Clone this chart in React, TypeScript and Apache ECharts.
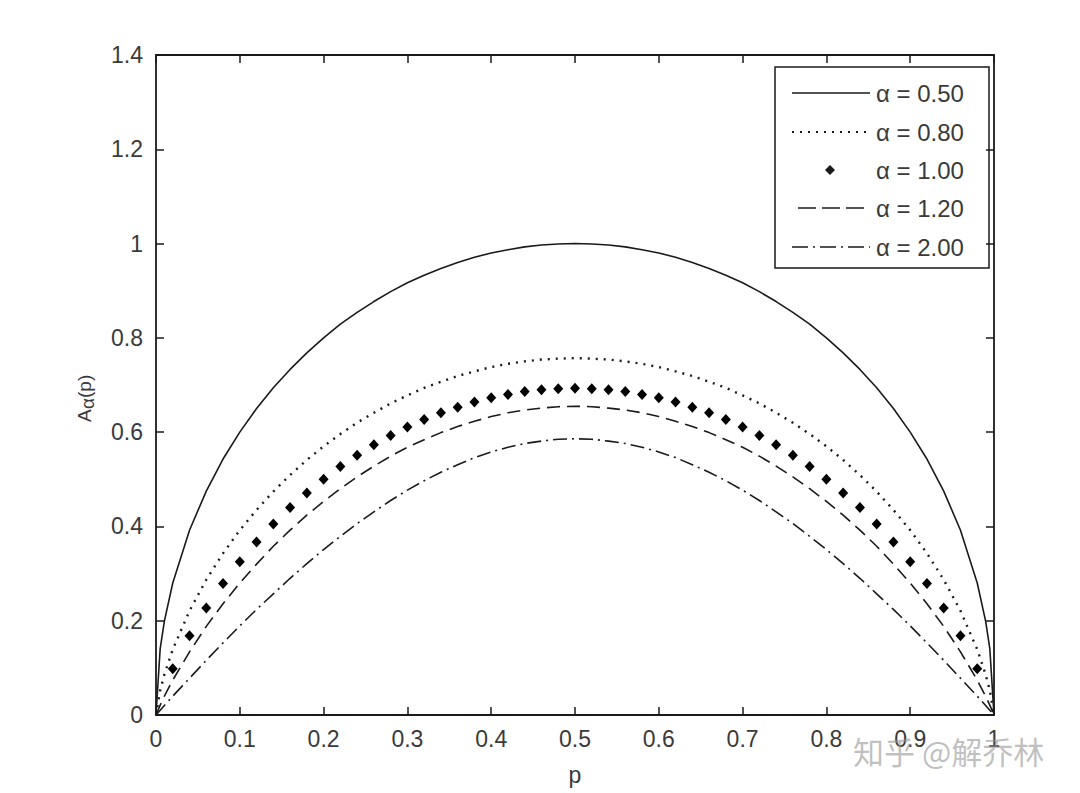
import React, { useEffect, useRef } from "react";
import * as echarts from "echarts";

// p values for the continuous curves
const pLine = [
  0, 0.005, 0.01, 0.02, 0.04, 0.06, 0.08, 0.1, 0.12, 0.14, 0.16, 0.18, 0.2, 0.22, 0.24, 0.26, 0.28, 0.3,
  0.32, 0.34, 0.36, 0.38, 0.4, 0.42, 0.44, 0.46, 0.48, 0.5,
  0.52, 0.54, 0.56, 0.58, 0.6, 0.62, 0.64, 0.66, 0.68, 0.7, 0.72, 0.74, 0.76, 0.78, 0.8, 0.82, 0.84,
  0.86, 0.88, 0.9, 0.92, 0.94, 0.96, 0.98, 0.99, 0.995, 1,
];

const a050 = [
  0, 0.141, 0.199, 0.28, 0.392, 0.475, 0.543, 0.6, 0.65, 0.694, 0.733, 0.768, 0.8, 0.829, 0.854, 0.877,
  0.898, 0.917, 0.933, 0.947, 0.96, 0.971, 0.98, 0.987, 0.993, 0.997, 0.999, 1.0,
  0.999, 0.997, 0.993, 0.987, 0.98, 0.971, 0.96, 0.947, 0.933, 0.917, 0.898, 0.877, 0.854, 0.829, 0.8,
  0.768, 0.733, 0.694, 0.65, 0.6, 0.543, 0.475, 0.392, 0.28, 0.199, 0.141, 0,
];

const a080 = [
  0, 0.052, 0.086, 0.139, 0.221, 0.287, 0.343, 0.392, 0.435, 0.474, 0.509, 0.541, 0.57, 0.596, 0.62,
  0.641, 0.661, 0.678, 0.694, 0.707, 0.719, 0.729, 0.738, 0.745, 0.75, 0.754, 0.756, 0.757,
  0.756, 0.754, 0.75, 0.745, 0.738, 0.729, 0.719, 0.707, 0.694, 0.678, 0.661, 0.641, 0.62, 0.596, 0.57,
  0.541, 0.509, 0.474, 0.435, 0.392, 0.343, 0.287, 0.221, 0.139, 0.086, 0.052, 0,
];

const a120 = [
  0, 0.021, 0.04, 0.074, 0.134, 0.188, 0.236, 0.28, 0.32, 0.358, 0.392, 0.424, 0.453, 0.48, 0.505,
  0.528, 0.549, 0.568, 0.584, 0.599, 0.612, 0.623, 0.633, 0.641, 0.647, 0.651, 0.654, 0.655,
  0.654, 0.651, 0.647, 0.641, 0.633, 0.623, 0.612, 0.599, 0.584, 0.568, 0.549, 0.528, 0.505, 0.48,
  0.453, 0.424, 0.392, 0.358, 0.32, 0.28, 0.236, 0.188, 0.134, 0.074, 0.04, 0.021, 0,
];

const a200 = [
  0, 0.01, 0.02, 0.04, 0.078, 0.116, 0.153, 0.189, 0.224, 0.257, 0.29, 0.321, 0.351, 0.379, 0.406,
  0.431, 0.455, 0.477, 0.497, 0.515, 0.531, 0.546, 0.558, 0.568, 0.576, 0.581, 0.585, 0.586,
  0.585, 0.581, 0.576, 0.568, 0.558, 0.546, 0.531, 0.515, 0.497, 0.477, 0.455, 0.431, 0.406, 0.379,
  0.351, 0.321, 0.29, 0.257, 0.224, 0.189, 0.153, 0.116, 0.078, 0.04, 0.02, 0.01, 0,
];

// p values for the alpha = 1.00 markers
const pMarker = [
  0.02, 0.04, 0.06, 0.08, 0.1, 0.12, 0.14, 0.16, 0.18, 0.2, 0.22, 0.24, 0.26, 0.28, 0.3, 0.32, 0.34,
  0.36, 0.38, 0.4, 0.42, 0.44, 0.46, 0.48, 0.5, 0.52, 0.54, 0.56, 0.58, 0.6, 0.62, 0.64, 0.66, 0.68,
  0.7, 0.72, 0.74, 0.76, 0.78, 0.8, 0.82, 0.84, 0.86, 0.88, 0.9, 0.92, 0.94, 0.96, 0.98,
];

const a100 = [
  0.098, 0.168, 0.227, 0.279, 0.325, 0.367, 0.405, 0.44, 0.471, 0.5, 0.527, 0.551, 0.573, 0.593, 0.611,
  0.627, 0.641, 0.653, 0.664, 0.673, 0.68, 0.686, 0.69, 0.692, 0.693,
  0.692, 0.69, 0.686, 0.68, 0.673, 0.664, 0.653, 0.641, 0.627, 0.611, 0.593, 0.573, 0.551, 0.527, 0.5,
  0.471, 0.44, 0.405, 0.367, 0.325, 0.279, 0.227, 0.168, 0.098,
];

const legendNames = ["α = 0.50", "α = 0.80", "α = 1.00", "α = 1.20", "α = 2.00"];

const INK = "#1a1a1a";
const TEXT = "#3a3a3a";
const FONT = "'Liberation Sans', Arial, Helvetica, sans-serif";

export default function App() {
  const ref = useRef<HTMLDivElement>(null);

  useEffect(() => {
    if (!ref.current) return;
    const chart = echarts.init(ref.current, undefined, { renderer: "svg" });

    const lineSeries = (name: string, ys: number[], type: any, width: number) => ({
      name,
      type: "line",
      data: pLine.map((p, i) => [p, ys[i]]),
      showSymbol: false,
      symbol: "none",
      smooth: false,
      lineStyle: { color: INK, width, type, cap: "butt", opacity: 1 },
      z: 3,
    });

    const rowY = [93, 132, 170, 208, 247];
    const legX1 = 792;
    const legX2 = 870;

    const legendChildren: any[] = [
      {
        type: "rect",
        shape: { x: 775, y: 67, width: 214, height: 201 },
        style: { fill: "#fff", stroke: INK, lineWidth: 1.5 },
      },
      {
        type: "line",
        shape: { x1: legX1, y1: rowY[0], x2: legX2, y2: rowY[0] },
        style: { stroke: INK, lineWidth: 1.6 },
      },
      {
        type: "line",
        shape: { x1: legX1, y1: rowY[1], x2: legX2, y2: rowY[1] },
        style: { stroke: INK, lineWidth: 2.2, lineDash: [2, 6] },
      },
      {
        type: "polygon",
        shape: {
          points: [
            [830, rowY[2] - 5],
            [835, rowY[2]],
            [830, rowY[2] + 5],
            [825, rowY[2]],
          ],
        },
        style: { fill: INK },
      },
      {
        type: "line",
        shape: { x1: 798, y1: rowY[3], x2: legX2, y2: rowY[3] },
        style: { stroke: INK, lineWidth: 1.6, lineDash: [18, 6] },
      },
      {
        type: "line",
        shape: { x1: legX1, y1: rowY[4], x2: legX2, y2: rowY[4] },
        style: { stroke: INK, lineWidth: 1.6, lineDash: [16, 5, 2, 5] },
      },
      ...legendNames.map((t, i) => ({
        type: "text",
        x: 876,
        y: rowY[i],
        style: {
          text: t,
          fill: TEXT,
          font: `24px ${FONT}`,
          textAlign: "left",
          textVerticalAlign: "middle",
        },
      })),
    ];

    const option: any = {
      animation: false,
      backgroundColor: "#ffffff",
      grid: { left: 156, right: 86, top: 55, bottom: 78, containLabel: false },
      xAxis: [
        {
          type: "value",
          min: 0,
          max: 1,
          interval: 0.1,
          position: "bottom",
          axisLine: { show: true, onZero: false, lineStyle: { color: INK, width: 1.8 } },
          axisTick: { show: true, inside: true, length: 8, lineStyle: { color: INK, width: 1.5 } },
          axisLabel: { color: TEXT, fontSize: 23, fontFamily: FONT, margin: 12 },
          splitLine: { show: false },
        },
        {
          type: "value",
          min: 0,
          max: 1,
          interval: 0.1,
          position: "top",
          axisLine: { show: true, onZero: false, lineStyle: { color: INK, width: 1.8 } },
          axisTick: { show: true, inside: true, length: 8, lineStyle: { color: INK, width: 1.5 } },
          axisLabel: { show: false },
          splitLine: { show: false },
        },
      ],
      yAxis: [
        {
          type: "value",
          min: 0,
          max: 1.4,
          interval: 0.2,
          position: "left",
          axisLine: { show: true, onZero: false, lineStyle: { color: INK, width: 1.8 } },
          axisTick: { show: true, inside: true, length: 8, lineStyle: { color: INK, width: 1.5 } },
          axisLabel: { color: TEXT, fontSize: 23, fontFamily: FONT, margin: 13 },
          splitLine: { show: false },
        },
        {
          type: "value",
          min: 0,
          max: 1.4,
          interval: 0.2,
          position: "right",
          axisLine: { show: true, onZero: false, lineStyle: { color: INK, width: 1.8 } },
          axisTick: { show: true, inside: true, length: 8, lineStyle: { color: INK, width: 1.5 } },
          axisLabel: { show: false },
          splitLine: { show: false },
        },
      ],
      series: [
        lineSeries(legendNames[0], a050, "solid", 1.6),
        lineSeries(legendNames[1], a080, [2, 6], 2.4),
        {
          name: legendNames[2],
          type: "scatter",
          data: pMarker.map((p, i) => [p, a100[i]]),
          symbol: "diamond",
          symbolSize: [10, 11],
          itemStyle: { color: "#000", opacity: 1 },
          z: 4,
        },
        lineSeries(legendNames[3], a120, [13, 7], 1.6),
        lineSeries(legendNames[4], a200, [14, 5, 2, 5], 1.6),
      ],
      graphic: [
        { type: "group", z: 100, children: legendChildren },
        {
          type: "group",
          x: 84,
          y: 398,
          rotation: Math.PI / 2,
          children: [
            {
              type: "text",
              x: -24,
              y: 0,
              style: { text: "A", fill: TEXT, font: `19px ${FONT}`, textAlign: "left", textVerticalAlign: "middle" },
            },
            {
              type: "text",
              x: -11,
              y: 3,
              style: { text: "α", fill: TEXT, font: `19px ${FONT}`, textAlign: "left", textVerticalAlign: "middle" },
            },
            {
              type: "text",
              x: 0,
              y: 0,
              style: { text: "(p)", fill: TEXT, font: `19px ${FONT}`, textAlign: "left", textVerticalAlign: "middle" },
            },
          ],
        },
        {
          type: "text",
          x: 575,
          y: 775,
          style: { text: "p", fill: TEXT, font: `23px ${FONT}`, textAlign: "center", textVerticalAlign: "middle" },
        },
        {
          type: "text",
          x: 853,
          y: 750,
          z: 50,
          style: {
            text: "知乎 @解乔林",
            fill: "rgba(150,150,150,0.6)",
            font: `31px 'Noto Sans CJK SC', sans-serif`,
            textAlign: "left",
            textVerticalAlign: "middle",
          },
        },
      ],
    };

    chart.setOption(option);
    return () => chart.dispose();
  }, []);

  return (
    <div
      ref={ref}
      style={{ position: "absolute", left: 0, top: 0, width: 1080, height: 793, background: "#fff" }}
    />
  );
}
